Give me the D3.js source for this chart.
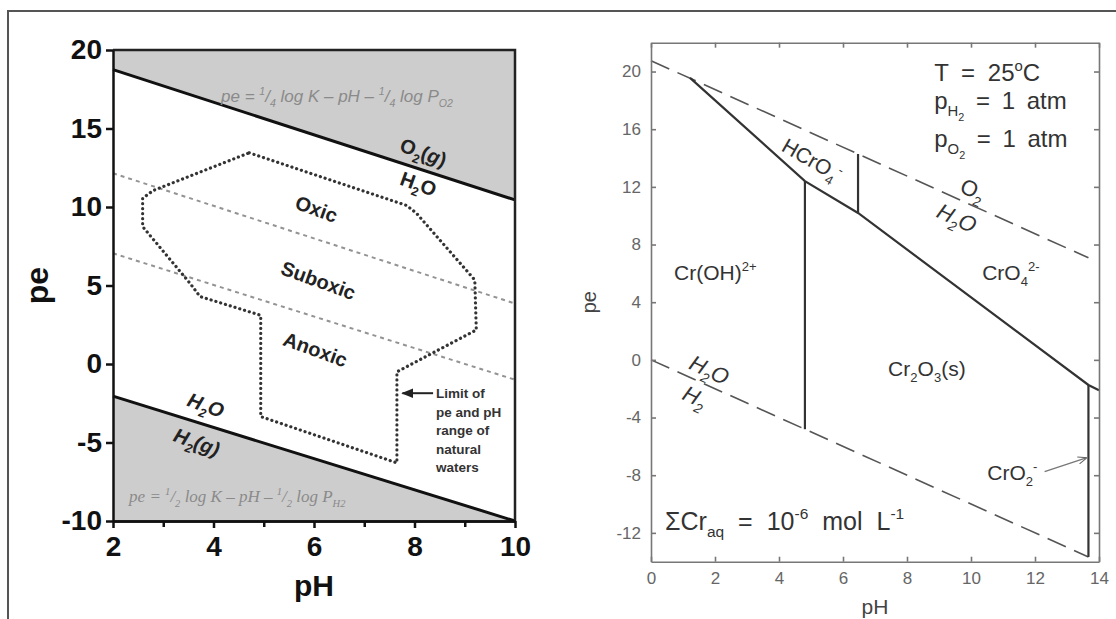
<!DOCTYPE html>
<html>
<head>
<meta charset="utf-8">
<script src="https://cdn.jsdelivr.net/npm/d3@7"></script>
<style>
  body { margin: 0; background: #fff; }
  svg { display: block; }
  .lax text { font-family: "Liberation Sans Narrow", "Liberation Sans", Arial, sans-serif; font-weight: bold; fill: #111; }
  .lax path, .lax line { stroke: #111; stroke-width: 2.5; }
  .rax text { font-family: "Liberation Sans", Arial, sans-serif; fill: #666; }
  .rax path, .rax line { stroke: #777; stroke-width: 1.6; }
</style>
</head>
<body>
<svg id="chart" width="1116" height="619"></svg>
<script>
'use strict';

// ---- left panel: pe / pH limits of natural waters
const leftXDomain = [2, 10],
      leftYDomain = [-10, 20],
      leftXTicks  = [2, 4, 6, 8, 10],
      leftXMinor  = [3, 5, 7, 9],
      leftYTicks  = [-10, -5, 0, 5, 10, 15, 20];

const o2Line     = [[2, 18.75], [10, 10.45]],
      h2Line     = [[2, -2.05], [10, -10]],
      oxicLine   = [[2, 12.15], [10, 3.85]],
      anoxicLine = [[2, 7.05], [10, -1.0]];

const naturalWaters = [
  [4.71, 13.45], [7.84, 10.1], [8.04, 9.6], [9.2, 5.35], [9.23, 2.17],
  [7.65, -0.5], [7.65, -6.3], [4.94, -3.35], [4.94, 3.1], [3.73, 4.3],
  [3.53, 5.15], [2.59, 8.75], [2.59, 10.55], [2.8, 11.05]
];

// ---- right panel: chromium pe / pH diagram
const rightXDomain = [0, 14],
      rightYDomain = [-14, 22],
      rightXTicks  = [0, 2, 4, 6, 8, 10, 12, 14],
      rightYTicks  = [-12, -8, -4, 0, 4, 8, 12, 16, 20];

const o2Water    = [[0, 20.75], [13.67, 7.08]],
      h2Water    = [[0, 0], [13.67, -13.67]],
      crBoundary = [[1.22, 19.56], [4.81, 12.4], [6.47, 10.19], [13.67, -1.74], [14, -2.1]],
      crVerticals = [
        [[4.81, 12.4], [4.81, -4.81]],
        [[6.47, 10.19], [6.47, 14.28]],
        [[13.67, -1.74], [13.67, -13.67]]
      ],
      cro2Arrow  = [[12.3, -7.75], [13.6, -6.8]];

const svg = d3.select("#chart");
const SANS = "'Liberation Sans', Arial, sans-serif";

// text with sub/superscript pieces: parts = [[str, "sub"|"sup"|"sub2"|null, {attrs}]]
function rich(g, x, y, parts, o) {
  o = o || {};
  let fs = o.size || 16;
  let t = g.append("text")
      .attr("transform", "translate(" + x + "," + y + ") rotate(" + (o.rotate || 0) + ")")
      .attr("text-anchor", o.anchor || "start")
      .attr("font-family", o.family || SANS)
      .attr("font-size", fs)
      .attr("font-weight", o.weight || "normal")
      .attr("font-style", o.style || "normal")
      .style("fill", o.fill || "#222");
  if (o.ws) t.style("word-spacing", o.ws + "px");
  let shift = 0;
  parts.forEach(function(p) {
    let mode = p[1],
        target = mode === "sub" ? 0.28 * fs : mode === "sup" ? -0.42 * fs : mode === "sub2" ? 0.5 * fs : 0,
        size = mode === "sub2" ? fs * 0.45 : mode ? fs * 0.62 : fs;
    let ts = t.append("tspan")
        .attr("dy", target - shift)
        .attr("font-size", size)
        .text(p[0]);
    if (p[2]) Object.keys(p[2]).forEach(function(k) { ts.attr(k, p[2][k]); });
    shift = target;
  });
  return t;
}

// whole figure frame
svg.append("path")
    .attr("d", "M8,619V11H1116")
    .attr("fill", "none")
    .attr("stroke", "#555")
    .attr("stroke-width", 2);

// ================= LEFT =================
let xl = d3.scaleLinear().domain(leftXDomain).range([113, 515]),
    yl = d3.scaleLinear().domain(leftYDomain).range([521, 50]);
let line = function(sx, sy) { return d3.line().x(function(d) { return sx(d[0]); }).y(function(d) { return sy(d[1]); }); };
let ll = line(xl, yl);

let gl = svg.append("g");

// shaded areas outside water stability
gl.append("path")
    .attr("d", ll([[leftXDomain[0], leftYDomain[1]]].concat(o2Line, [[leftXDomain[1], leftYDomain[1]]])) + "Z")
    .attr("fill", "#cdcdcd");
gl.append("path")
    .attr("d", ll([[leftXDomain[0], leftYDomain[0]]].concat(h2Line)) + "Z")
    .attr("fill", "#cdcdcd");

// zone boundaries
[oxicLine, anoxicLine].forEach(function(d) {
  gl.append("path")
      .attr("d", ll(d))
      .attr("fill", "none")
      .attr("stroke", "#939393")
      .attr("stroke-width", 2)
      .attr("stroke-dasharray", "4 4");
});

gl.append("path")
    .attr("d", ll(naturalWaters) + "Z")
    .attr("fill", "none")
    .attr("stroke", "#333")
    .attr("stroke-width", 3.2)
    .attr("stroke-linecap", "round")
    .attr("stroke-dasharray", "0.1 4.9");

[o2Line, h2Line].forEach(function(d) {
  gl.append("path")
      .attr("d", ll(d))
      .attr("fill", "none")
      .attr("stroke", "#111")
      .attr("stroke-width", 3);
});

// frame top / right
gl.append("path")
    .attr("d", "M" + xl(2) + "," + yl(20) + "H" + xl(10) + "V" + yl(-10))
    .attr("fill", "none")
    .attr("stroke", "#222")
    .attr("stroke-width", 2.5);

gl.append("g")
    .attr("class", "lax")
    .attr("transform", "translate(0," + yl(-10) + ")")
    .call(d3.axisBottom(xl).tickValues(leftXMinor).tickSize(6).tickSizeOuter(0).tickFormat(""));
gl.append("g")
    .attr("class", "lax")
    .attr("transform", "translate(0," + yl(-10) + ")")
    .call(d3.axisBottom(xl).tickValues(leftXTicks).tickSize(7).tickSizeOuter(0).tickPadding(8)
      .tickFormat(function(d) { return String(d); }))
    .selectAll("text").attr("font-size", 28);
gl.append("g")
    .attr("class", "lax")
    .attr("transform", "translate(" + xl(2) + ",0)")
    .call(d3.axisLeft(yl).tickValues(leftYTicks).tickSize(7).tickSizeOuter(0).tickPadding(4)
      .tickFormat(function(d) { return String(d); }))
    .selectAll("text").attr("font-size", 28);

// axis titles
gl.append("text")
    .attr("transform", "translate(48," + ((yl(20) + yl(-10)) / 2) + ") rotate(-90)")
    .attr("text-anchor", "middle")
    .attr("font-family", SANS).attr("font-weight", "bold").attr("font-size", 32)
    .style("fill", "#111")
    .text("pe");
gl.append("text")
    .attr("x", (xl(2) + xl(10)) / 2)
    .attr("y", 596)
    .attr("text-anchor", "middle")
    .attr("font-family", SANS).attr("font-weight", "bold").attr("font-size", 30)
    .style("fill", "#111")
    .text("pH");

// equations
rich(gl, xl(4.15), yl(16.7), [["pe = "], ["1", "sup"], ["/"], ["4", "sub"], [" log K \u2013 pH \u2013 "],
     ["1", "sup"], ["/"], ["4", "sub"], [" log P"], ["O2", "sub"]],
     {size: 17, style: "italic", fill: "#8a8a8a"});
rich(gl, xl(2.32), yl(-8.8), [["pe = "], ["1", "sup"], ["/"], ["2", "sub"], [" log K \u2013 pH \u2013 "],
     ["1", "sup"], ["/"], ["2", "sub"], [" log P"], ["H2", "sub"]],
     {size: 17, style: "italic", fill: "#8a8a8a", family: "'Liberation Serif', serif"});

// region labels
let rot = 20;
rich(gl, xl(8.13), yl(13.5) + 7, [["O"], ["2", "sub"], ["("], ["g", null, {"font-style": "italic"}], [")"]],
     {size: 20, weight: "bold", anchor: "middle", rotate: rot});
rich(gl, xl(8.03), yl(11.5) + 7, [["H"], ["2", "sub"], ["O"]],
     {size: 20, weight: "bold", anchor: "middle", rotate: rot});
rich(gl, xl(6.0), yl(9.9) + 7, [["Oxic"]], {size: 20, weight: "bold", anchor: "middle", rotate: rot});
rich(gl, xl(6.04), yl(5.35) + 7, [["Suboxic"]], {size: 20, weight: "bold", anchor: "middle", rotate: rot});
rich(gl, xl(5.98), yl(0.95) + 7, [["Anoxic"]], {size: 20, weight: "bold", anchor: "middle", rotate: rot});
rich(gl, xl(3.8), yl(-2.6) + 7, [["H"], ["2", "sub"], ["O"]],
     {size: 20, weight: "bold", style: "italic", anchor: "middle", rotate: rot});
rich(gl, xl(3.62), yl(-4.95) + 7, [["H"], ["2", "sub"], ["(g)"]],
     {size: 20, weight: "bold", style: "italic", anchor: "middle", rotate: rot});

// limit annotation
svg.append("defs").append("marker")
    .attr("id", "arrowL")
    .attr("viewBox", "0 -5 10 10")
    .attr("refX", 9).attr("refY", 0)
    .attr("markerWidth", 6).attr("markerHeight", 6)
    .attr("orient", "auto")
  .append("path")
    .attr("d", "M0,-4L10,0L0,4Z")
    .attr("fill", "#222");
gl.append("line")
    .attr("x1", xl(8.37)).attr("y1", yl(-1.86))
    .attr("x2", xl(7.76)).attr("y2", yl(-1.86))
    .attr("stroke", "#222").attr("stroke-width", 2)
    .attr("marker-end", "url(#arrowL)");
["Limit of", "pe and pH", "range of", "natural", "waters"].forEach(function(s, i) {
  gl.append("text")
      .attr("x", xl(8.43))
      .attr("y", yl(-1.86) + 5 + i * 18.5)
      .attr("font-family", SANS).attr("font-weight", "bold").attr("font-size", 13.5)
      .style("fill", "#333")
      .text(s);
});

// ================= RIGHT =================
let xr = d3.scaleLinear().domain(rightXDomain).range([651, 1099]),
    yr = d3.scaleLinear().domain(rightYDomain).range([561.7, 42.7]);
let lr = line(xr, yr);
let gr = svg.append("g");

[o2Water, h2Water].forEach(function(d) {
  gr.append("path")
      .attr("d", lr(d))
      .attr("fill", "none")
      .attr("stroke", "#555")
      .attr("stroke-width", 1.6)
      .attr("stroke-dasharray", "20 9");
});

gr.append("path")
    .attr("d", lr(crBoundary))
    .attr("fill", "none")
    .attr("stroke", "#333")
    .attr("stroke-width", 2.2);
crVerticals.forEach(function(d) {
  gr.append("path")
      .attr("d", lr(d))
      .attr("fill", "none")
      .attr("stroke", "#333")
      .attr("stroke-width", 2.2);
});

svg.select("defs").append("marker")
    .attr("id", "arrowR")
    .attr("viewBox", "0 -5 10 10")
    .attr("refX", 9).attr("refY", 0)
    .attr("markerWidth", 7).attr("markerHeight", 7)
    .attr("orient", "auto")
  .append("path")
    .attr("d", "M0,-4L10,0L0,4")
    .attr("fill", "none")
    .attr("stroke", "#666")
    .attr("stroke-width", 1.2);
gr.append("path")
    .attr("d", lr(cro2Arrow))
    .attr("stroke", "#777")
    .attr("stroke-width", 1.3)
    .attr("marker-end", "url(#arrowR)");

// axes, inward ticks on all four sides
gr.append("g").attr("class", "rax")
    .attr("transform", "translate(0," + yr(-14) + ")")
    .call(d3.axisBottom(xr).tickValues(rightXTicks).tickSize(-5).tickSizeOuter(0).tickPadding(10)
      .tickFormat(function(d) { return String(d); }))
    .selectAll("text").attr("font-size", 17);
gr.append("g").attr("class", "rax")
    .attr("transform", "translate(" + xr(0) + ",0)")
    .call(d3.axisLeft(yr).tickValues(rightYTicks).tickSize(-5).tickSizeOuter(0).tickPadding(10)
      .tickFormat(function(d) { return String(d); }))
    .selectAll("text").attr("font-size", 17);
gr.append("g").attr("class", "rax")
    .attr("transform", "translate(0," + yr(22) + ")")
    .call(d3.axisTop(xr).tickValues(rightXTicks).tickSize(-5).tickSizeOuter(0).tickFormat(""));
gr.append("g").attr("class", "rax")
    .attr("transform", "translate(" + xr(14) + ",0)")
    .call(d3.axisRight(yr).tickValues(rightYTicks).tickSize(-5).tickSizeOuter(0).tickFormat(""));

gr.append("text")
    .attr("transform", "translate(596," + ((yr(22) + yr(-14)) / 2) + ") rotate(-90)")
    .attr("text-anchor", "middle")
    .attr("font-family", SANS).attr("font-size", 20)
    .style("fill", "#444")
    .text("pe");
gr.append("text")
    .attr("x", (xr(0) + xr(14)) / 2)
    .attr("y", 614)
    .attr("text-anchor", "middle")
    .attr("font-family", SANS).attr("font-size", 21)
    .style("fill", "#444")
    .text("pH");

// conditions
let dark = "#333";
rich(gr, xr(8.85), yr(19.35), [["T = 25"], ["o", "sup"], ["C"]], {size: 24, fill: dark, ws: 6});
rich(gr, xr(8.85), yr(17.4), [["p"], ["H", "sub"], ["2", "sub2"], [" = 1 atm"]], {size: 24, fill: dark, ws: 5});
rich(gr, xr(8.85), yr(14.75), [["p"], ["O", "sub"], ["2", "sub2"], [" = 1 atm"]], {size: 24, fill: dark, ws: 5});
rich(gr, xr(0.44), yr(-11.8), [["\u03A3Cr"], ["aq", "sub"], [" = 10"], ["-6", "sup"], [" mol L"], ["-1", "sup"]],
     {size: 25, fill: dark, ws: 7});

// species
rich(gr, xr(0.72), yr(5.53), [["Cr(OH)"], ["2+", "sup"]], {size: 21, fill: dark});
rich(gr, xr(10.35), yr(5.53), [["CrO"], ["4", "sub"], ["2-", "sup"]], {size: 21, fill: dark});
rich(gr, xr(4.92), yr(13.9) + 7, [["HCrO"], ["4", "sub"], ["-", "sup"]], {size: 21, fill: dark, anchor: "middle", rotate: 30});
rich(gr, xr(7.41), yr(-1.11), [["Cr"], ["2", "sub"], ["O"], ["3", "sub"], ["(s)"]], {size: 21, fill: dark});
rich(gr, xr(10.51), yr(-8.33), [["CrO"], ["2", "sub"], ["-", "sup"]], {size: 21, fill: dark});
rich(gr, xr(9.96), yr(11.81) + 7, [["O"], ["2", "sub"]], {size: 22, fill: dark, anchor: "middle", rotate: 25});
rich(gr, xr(9.46), yr(9.84) + 7, [["H"], ["2", "sub"], ["O"]], {size: 22, fill: dark, style: "italic", anchor: "middle", rotate: 25});
rich(gr, xr(1.72), yr(-0.69) + 7, [["H"], ["2", "sub"], ["O"]], {size: 22, fill: dark, style: "italic", anchor: "middle", rotate: 25});
rich(gr, xr(1.27), yr(-2.55) + 7, [["H"], ["2", "sub"]], {size: 22, fill: dark, style: "italic", anchor: "middle", rotate: 25});
</script>
</body>
</html>
